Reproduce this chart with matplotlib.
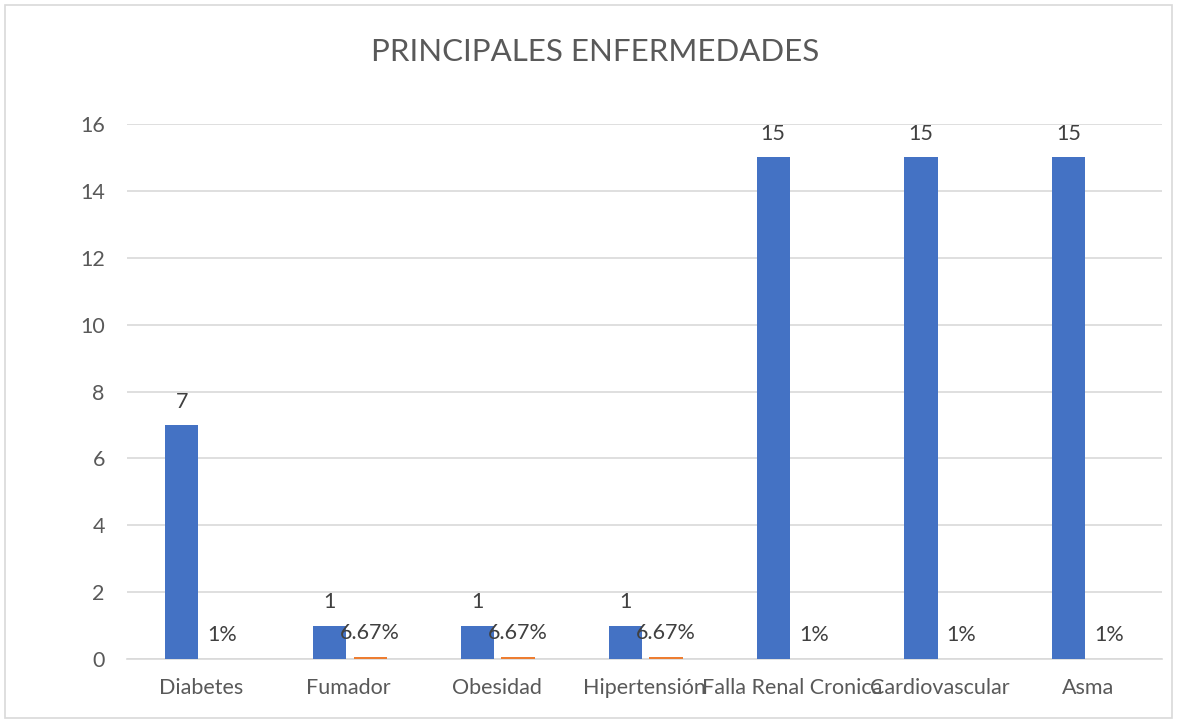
import matplotlib.pyplot as plt
import numpy as np

plt.rcParams['font.family'] = ['Lato', 'DejaVu Sans']

categorias = ["Diabetes", "Fumador", "Obesidad", "Hipertensión",
              "Falla Renal Cronica", "Cardiovascular", "Asma"]
casos = [7, 1, 1, 1, 15, 15, 15]
porcentaje = [0.01, 0.0667, 0.0667, 0.0667, 0.01, 0.01, 0.01]
etiquetas_pct = ["1%", "6.67%", "6.67%", "6.67%", "1%", "1%", "1%"]

azul = "#4472C4"
naranja = "#ED7D31"
gris = "#595959"

fig = plt.figure(figsize=(11.77, 7.23), dpi=100)
ax = fig.add_axes([127 / 1177, 1 - 659 / 723, 1035 / 1177, 535 / 723])

x = np.arange(len(categorias))
w = 0.225
ax.bar(x - 0.13, casos, w, color=azul, zorder=3)
ax.bar(x + 0.145, porcentaje, w, color=naranja, zorder=3)

for xi, v in zip(x, casos):
    ax.text(xi - 0.13, v + 0.4, str(v), ha="center", va="bottom",
            fontsize=15.5, color="#404040")
for xi, v, lab in zip(x, porcentaje, etiquetas_pct):
    ax.text(xi + 0.145, v + 0.4, lab, ha="center", va="bottom",
            fontsize=15.5, color="#404040")

ax.set_xlim(-0.5, len(categorias) - 0.5)
ax.set_ylim(0, 16)
ax.set_yticks(range(0, 17, 2))
ax.set_xticks(x)
ax.set_xticklabels(categorias)
ax.tick_params(axis="both", length=0, labelsize=15.5, labelcolor=gris)
ax.tick_params(axis="x", pad=14)
ax.tick_params(axis="y", pad=16)
ax.grid(axis="y", color="#D9D9D9", linewidth=1.2, zorder=0)
for s in ["top", "right", "left"]:
    ax.spines[s].set_visible(False)
ax.spines["bottom"].set_color("#D9D9D9")
ax.spines["bottom"].set_linewidth(1.2)

fig.text(595 / 1177, 1 - 52 / 723, "PRINCIPALES ENFERMEDADES", ha="center",
         va="center", fontsize=22.5, color=gris)

borde = plt.Rectangle((5 / 1177, 5 / 723), 1 - 10 / 1177, 1 - 10 / 723,
                      transform=fig.transFigure, fill=False,
                      edgecolor="#D9D9D9", linewidth=1.2)
fig.patches.append(borde)

fig.savefig("out.png", dpi=100)
